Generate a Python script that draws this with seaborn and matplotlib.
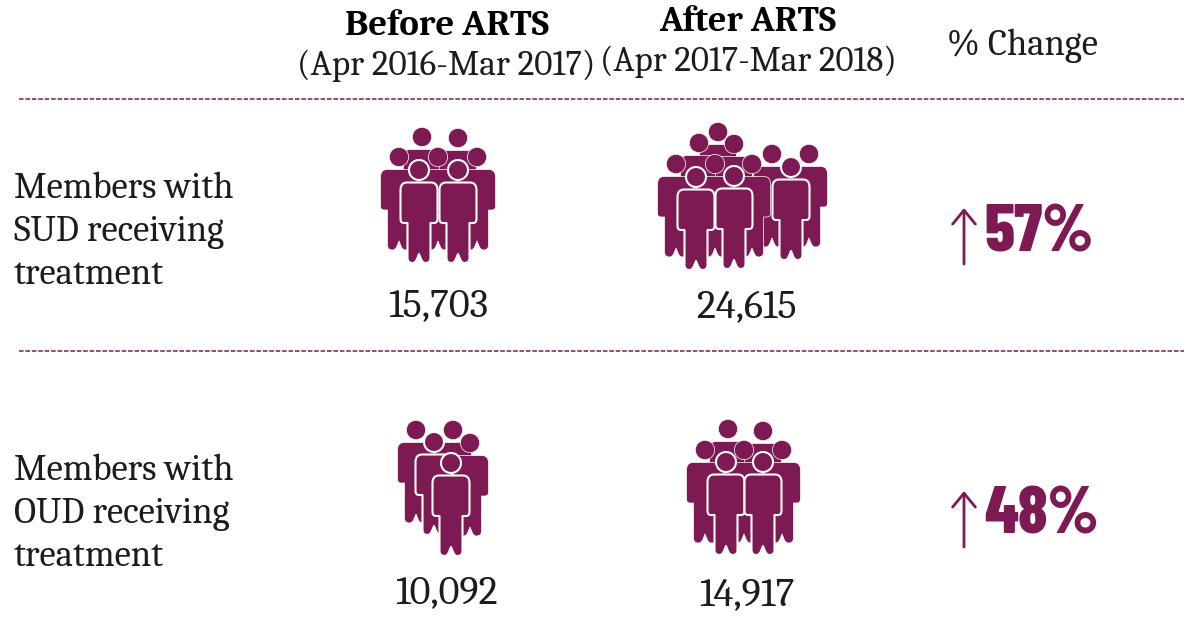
import matplotlib
matplotlib.use("Agg")
import matplotlib.pyplot as plt
from matplotlib.path import Path
from matplotlib.patches import PathPatch, Circle
from matplotlib.transforms import Affine2D
import seaborn as sns

# values
measures = ["Members with\nSUD receiving\ntreatment", "Members with\nOUD receiving\ntreatment"]
before_counts = ["15,703", "10,092"]
after_counts = ["24,615", "14,917"]
pct_change = ["57%", "48%"]

PURPLE = "#7e1a53"
INK = "#1c1c1c"

# head centres of the people in each icon, back to front
back_sud_before = [(422, 137), (458, 138), (399, 157), (438, 157), (477, 157)]
front_sud_before = [(419, 170), (458, 170)]
back_sud_after = [(718, 132), (699, 143), (734, 144), (772, 154), (809, 154), (676, 164), (715, 164), (752, 164)]
front_sud_after = [(791, 167), (696, 177), (734, 176)]
back_oud_before = [(416, 430), (453, 430), (470, 443)]
front_oud_before = [(434, 442), (451, 463)]
back_oud_after = [(728, 429), (763, 431), (705, 450), (744, 450), (782, 450)]
front_oud_after = [(726, 462), (763, 462)]

# person body outline, relative to the centre of the head
M, L, C = Path.MOVETO, Path.LINETO, Path.CURVE3
body_path = Path(
    [(-12, 12.5), (12, 12.5), (18.5, 12.5), (18.5, 20), (18.5, 49), (18.5, 53), (15, 53), (11.5, 53),
     (11.5, 88), (11.5, 93), (6.5, 93), (3.5, 93), (2, 89), (0, 84), (-2, 89), (-3.5, 93), (-6.5, 93),
     (-11.5, 93), (-11.5, 88), (-11.5, 53), (-15, 53), (-18.5, 53), (-18.5, 49), (-18.5, 20),
     (-18.5, 12.5), (-12, 12.5), (-12, 12.5)],
    [M, L, C, C, L, C, C, L, L, C, C, C, C, L, L, C, C, C, C, L, L, C, C, L, C, C, Path.CLOSEPOLY])


def draw_person(ax, cx, cy, lw):
    tr = Affine2D().translate(cx, cy) + ax.transData
    ax.add_patch(PathPatch(body_path, facecolor=PURPLE, edgecolor="white", lw=lw, joinstyle="round", transform=tr))
    ax.add_patch(Circle((cx, cy), 9.5 + lw / 3, facecolor=PURPLE, edgecolor="white", lw=lw))


def draw_icon(ax, back, front):
    for cx, cy in back:
        draw_person(ax, cx, cy, 0.5)
    for cx, cy in front:
        draw_person(ax, cx, cy, 1.5)


sns.set_theme(style="white")
fig, ax = plt.subplots(figsize=(11.86, 6.4), dpi=100)
ax.set_position([0, 0, 1, 1])

serif = ["Caladea", "Liberation Serif"]
narrow = ["Barlow Condensed", "Liberation Sans"]

# separators
for y in [99, 351]:
    sns.lineplot(x=[19, 1184], y=[y, y], color=PURPLE, lw=1.1, linestyle=(0, (3, 1.2)), ax=ax, legend=False)

ax.set_xlim(0, 1186)
ax.set_ylim(640, 0)
ax.axis("off")

# header
ax.text(447, 35, "Before ARTS", family=serif, weight="bold", fontsize=26.5, ha="center", va="baseline", color="black")
ax.text(446, 75, "(Apr 2016-Mar 2017)", family=serif, fontsize=25.5, ha="center", va="baseline", color=INK)
ax.text(748, 31, "After ARTS", family=serif, weight="bold", fontsize=26, ha="center", va="baseline", color="black")
ax.text(748, 71, "(Apr 2017-Mar 2018)", family=serif, fontsize=25.3, ha="center", va="baseline", color=INK)
ax.text(1022, 55, "% Change", family=serif, fontsize=26.5, ha="center", va="baseline", color=INK)

# rows
for measure, y0 in zip(measures, [198, 480]):
    for i, line in enumerate(measure.split("\n")):
        ax.text(14, y0 + i * 43, line, family=serif, fontsize=26.5, ha="left", va="baseline", color=INK)

draw_icon(ax, back_sud_before, front_sud_before)
draw_icon(ax, back_sud_after, front_sud_after)
draw_icon(ax, back_oud_before, front_oud_before)
draw_icon(ax, back_oud_after, front_oud_after)

ax.text(438, 316, before_counts[0], family=serif, fontsize=29, ha="center", va="baseline", color=INK)
ax.text(747, 318, after_counts[0], family=serif, fontsize=29, ha="center", va="baseline", color=INK)
ax.text(446, 603, before_counts[1], family=serif, fontsize=29, ha="center", va="baseline", color=INK)
ax.text(747, 605, after_counts[1], family=serif, fontsize=29, ha="center", va="baseline", color=INK)

# percent change with thin arrow
for y_top, y_bot, label, y_txt in [(208, 264, pct_change[0], 251), (491, 547, pct_change[1], 534)]:
    ax.annotate("", xy=(964, y_top), xytext=(964, y_bot),
                arrowprops=dict(arrowstyle="->,head_length=0.5,head_width=0.41", color=PURPLE, lw=2.0,
                                shrinkA=0, shrinkB=0, mutation_scale=20))
    ax.text(984, y_txt, label, family=narrow, weight=800, fontsize=48, ha="left", va="baseline", color=PURPLE)

fig.savefig("out.png", dpi=100, facecolor="white")
